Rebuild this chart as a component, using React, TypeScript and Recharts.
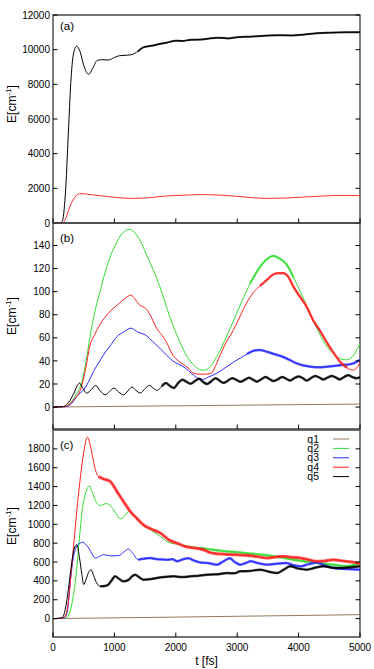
import React from "react";
import { LineChart, Line, XAxis, YAxis, Legend, ReferenceArea } from "recharts";

type Pt = [number, number];

const xTicks = [0, 1000, 2000, 3000, 4000, 5000];
const yTicksA = [0, 2000, 4000, 6000, 8000, 10000, 12000];
const yTicksB = [0, 20, 40, 60, 80, 100, 120, 140];
const yTicksC = [0, 200, 400, 600, 800, 1000, 1200, 1400, 1600, 1800];

const names = ["q1", "q2", "q3", "q4", "q5"];
const colors = ["#94785c", "#33dd33", "#2a2aff", "#ff2020", "#000000"];

// panel (a)
const aBlack: Pt[] = [
  [0, 0], [100, 0], [150, 100], [200, 1600], [250, 5200], [290, 8100], [330, 9700],
  [385, 10200], [440, 9900], [500, 9100], [580, 8580], [650, 8950], [720, 9380],
  [800, 9420], [900, 9400], [1000, 9550], [1080, 9650], [1200, 9680], [1290, 9720],
  [1380, 9900], [1470, 10130], [1600, 10220], [1700, 10300], [1850, 10400],
  [2000, 10520], [2100, 10500], [2250, 10570], [2400, 10580], [2550, 10650],
  [2700, 10690], [2850, 10650], [3000, 10720], [3200, 10750], [3450, 10800],
  [3650, 10830], [3900, 10820], [4100, 10880], [4300, 10950], [4500, 10980],
  [4750, 11000], [5000, 11010],
];
const aRed: Pt[] = [
  [0, 0], [150, 0], [200, 200], [250, 700], [300, 1150], [350, 1450], [400, 1640],
  [460, 1700], [550, 1670], [700, 1600], [900, 1520], [1100, 1450], [1350, 1420],
  [1600, 1470], [1850, 1560], [2100, 1600], [2400, 1640], [2700, 1610], [3000, 1540],
  [3250, 1460], [3500, 1420], [3800, 1440], [4100, 1500], [4400, 1560], [4700, 1590],
  [5000, 1580],
];

// panel (b)
const bQ1: Pt[] = [[0, 0], [500, 0.3], [1000, 0.6], [2000, 1.1], [3000, 1.6], [4000, 2.1], [5000, 2.6]];
const bQ2: Pt[] = [
  [0, 0], [200, 0.5], [260, 2], [320, 6], [400, 13], [470, 22], [540, 40], [600, 60],
  [680, 82], [770, 101], [850, 117], [930, 130], [1020, 141], [1120, 150], [1240, 154],
  [1350, 150], [1450, 141], [1530, 131], [1640, 118], [1750, 103], [1860, 85], [1960, 70],
  [2070, 56], [2180, 44], [2300, 36], [2420, 32], [2470, 32], [2560, 35], [2670, 44],
  [2800, 58], [2940, 75], [3080, 92], [3210, 107], [3340, 119], [3480, 128], [3590, 131],
  [3680, 129], [3800, 124], [3920, 112], [4030, 100], [4160, 84], [4300, 68], [4430, 55],
  [4570, 46], [4700, 41.5], [4780, 41], [4880, 44], [5000, 55],
];
const bQ3: Pt[] = [
  [0, 0], [200, 0.3], [300, 3], [400, 10], [500, 15], [580, 22], [660, 31], [740, 38],
  [820, 45], [930, 53], [1040, 61], [1150, 65], [1270, 68.4], [1380, 65], [1520, 62],
  [1620, 57], [1740, 51], [1850, 45], [1950, 40], [2050, 37], [2150, 34], [2260, 29],
  [2360, 25], [2450, 24], [2530, 26], [2620, 28], [2720, 31], [2830, 35], [2940, 39],
  [3050, 42.5], [3160, 46], [3280, 49], [3360, 49.5], [3480, 48], [3600, 46], [3720, 44],
  [3850, 41], [3960, 38], [4080, 36], [4200, 35], [4330, 34.5], [4460, 35], [4570, 35.5],
  [4700, 36.5], [4830, 37], [4920, 38.5], [5000, 41],
];
const bQ4: Pt[] = [
  [0, 0], [200, 0.5], [280, 3], [360, 8], [440, 14], [520, 30], [600, 53], [680, 63],
  [770, 72], [850, 78], [930, 83], [1060, 89], [1170, 94], [1270, 97], [1330, 94],
  [1400, 89], [1520, 85], [1600, 78], [1690, 68], [1780, 62], [1860, 55], [1940, 46],
  [2020, 41], [2120, 37], [2200, 34], [2300, 29], [2400, 28.5], [2500, 28.5], [2580, 29.5],
  [2650, 36], [2730, 46], [2820, 56], [2940, 67], [3050, 79], [3150, 90], [3260, 99],
  [3370, 105], [3480, 110], [3560, 114], [3650, 116], [3760, 116], [3830, 113], [3920, 104],
  [4030, 95], [4130, 87], [4240, 75], [4350, 66], [4450, 57], [4570, 47], [4680, 39],
  [4790, 34], [4880, 32], [4950, 34], [5000, 39],
];
const bQ5: Pt[] = [
  [0, 0], [150, 0.3], [220, 2], [280, 6], [340, 12], [400, 19], [430, 20.8], [480, 17],
  [550, 12], [620, 15], [695, 18.7], [770, 14], [850, 10.6], [920, 13.5], [995, 16.5],
  [1070, 13], [1150, 10.6], [1220, 14], [1285, 17.3], [1350, 14.5], [1420, 12.2],
  [1500, 16], [1570, 18.8], [1630, 16.5], [1700, 14.5], [1770, 18], [1840, 20.8],
  [1900, 18.5], [1970, 16.5], [2040, 21], [2110, 23.7], [2170, 22], [2240, 20.2],
  [2310, 22.5], [2380, 24.5], [2440, 22], [2510, 20], [2580, 22.5], [2650, 25], [2710, 23],
  [2780, 21], [2850, 23], [2920, 25], [2990, 23.5], [3050, 22], [3120, 23.5], [3190, 25.5],
  [3250, 24], [3320, 22], [3390, 24], [3460, 26], [3520, 24.5], [3590, 22.5], [3660, 24],
  [3730, 26], [3800, 24.5], [3860, 23], [3930, 25], [4000, 26.5], [4070, 25], [4130, 23],
  [4200, 25], [4270, 27], [4340, 25.5], [4400, 24], [4470, 25.5], [4540, 27], [4610, 25.5],
  [4670, 24], [4740, 26], [4810, 27.5], [4880, 26], [4940, 25], [5000, 26],
];

// panel (c)
const cQ1: Pt[] = [[0, 0], [1000, 8], [2000, 16], [3000, 25], [4000, 33], [5000, 42]];
const cQ2: Pt[] = [
  [0, 0], [200, 5], [260, 40], [320, 200], [380, 480], [430, 850], [480, 1170], [540, 1350],
  [590, 1408], [640, 1340], [700, 1240], [770, 1200], [870, 1220], [960, 1180], [1030, 1110],
  [1100, 1058], [1170, 1090], [1240, 1140], [1300, 1110], [1400, 1030], [1500, 975],
  [1600, 935], [1750, 870], [1860, 815], [2000, 790], [2200, 770], [2400, 750], [2600, 730],
  [2800, 715], [3000, 705], [3200, 690], [3450, 675], [3700, 650], [3920, 625], [4100, 605],
  [4300, 590], [4560, 572], [4780, 555], [4900, 570], [5000, 590],
];
const cQ3: Pt[] = [
  [0, 0], [180, 8], [230, 60], [280, 380], [330, 640], [380, 760], [440, 800], [490, 810],
  [540, 780], [590, 740], [640, 680], [690, 640], [760, 660], [820, 678], [890, 670],
  [960, 665], [1070, 668], [1160, 710], [1230, 738], [1290, 700], [1390, 625], [1480, 635],
  [1580, 642], [1700, 630], [1850, 625], [1950, 630], [2020, 607], [2120, 630], [2200, 640],
  [2300, 615], [2400, 596], [2520, 590], [2670, 572], [2780, 610], [2880, 640], [2960, 600],
  [3050, 572], [3140, 590], [3220, 607], [3330, 590], [3480, 572], [3600, 578], [3800, 590],
  [3900, 570], [4030, 554], [4150, 575], [4300, 596], [4400, 570], [4570, 536], [4800, 525],
  [5000, 519],
];
const cQ4: Pt[] = [
  [0, 0], [150, 2], [200, 30], [250, 180], [300, 520], [350, 880], [400, 1220], [450, 1520],
  [500, 1760], [560, 1925], [610, 1830], [650, 1700], [690, 1580], [740, 1505], [830, 1480],
  [930, 1455], [1040, 1350], [1150, 1240], [1260, 1135], [1370, 1060], [1470, 995],
  [1600, 950], [1740, 910], [1900, 830], [2020, 800], [2150, 765], [2290, 750], [2450, 730],
  [2560, 700], [2670, 688], [2800, 683], [2940, 678], [3100, 672], [3210, 667], [3350, 655],
  [3480, 642], [3620, 652], [3750, 660], [3900, 650], [4030, 642], [4160, 625], [4300, 607],
  [4430, 612], [4570, 625], [4680, 615], [4780, 607], [4900, 598], [5000, 585],
];
const cQ5: Pt[] = [
  [0, 0], [150, 10], [200, 100], [250, 307], [290, 520], [320, 660], [355, 760], [390, 783],
  [430, 650], [470, 470], [500, 360], [540, 420], [580, 490], [620, 519], [660, 460],
  [710, 380], [770, 342], [840, 345], [900, 360], [960, 410], [1010, 448], [1080, 420],
  [1150, 395], [1230, 410], [1300, 455], [1340, 466], [1400, 440], [1470, 413], [1600, 420],
  [1690, 431], [1800, 440], [1966, 448], [2100, 440], [2237, 448], [2370, 455], [2508, 466],
  [2670, 470], [2833, 483], [2950, 480], [3050, 501], [3200, 505], [3375, 519], [3500, 500],
  [3646, 483], [3760, 520], [3862, 554], [4000, 530], [4133, 519], [4270, 540], [4404, 554],
  [4550, 540], [4675, 536], [4850, 545], [5000, 554],
];

type Noise = { from: number; to: number; w: number };

const frameColor = "#444";
const TICK = 4.5;

function rows(pts: Pt[]) {
  return pts.map(([t, v]) => ({ t, v }));
}

function series(id: string, pts: Pt[], color: string, name: string, noise?: Noise) {
  const data = rows(pts);
  const out = [
    <Line
      key={id}
      xAxisId="b"
      yAxisId="l"
      data={data}
      dataKey="v"
      name={name}
      type="monotone"
      stroke={color}
      strokeWidth={1}
      dot={false}
      activeDot={false}
      isAnimationActive={false}
    />,
  ];
  if (noise) {
    out.push(
      <Line
        key={id + "-n"}
        xAxisId="b"
        yAxisId="l"
        data={data.filter((d) => d.t >= noise.from && d.t <= noise.to)}
        dataKey="v"
        legendType="none"
        type="monotone"
        stroke={color}
        strokeOpacity={0.8}
        strokeWidth={noise.w}
        dot={false}
        activeDot={false}
        isAnimationActive={false}
      />
    );
  }
  return out;
}

// inward tick marks, drawn at the positions the axes hand to the tick renderer
function LeftTick({ x, y, payload }: any) {
  return (
    <g>
      <line x1={x + 3} x2={x + 3 + TICK} y1={y} y2={y} stroke="#000" />
      <text x={x} y={y} dy="0.36em" textAnchor="end" fontSize={10} fill="#000">
        {payload.value}
      </text>
    </g>
  );
}

function RightTick({ x, y }: any) {
  return <line x1={x - TICK} x2={x} y1={y} y2={y} stroke="#000" />;
}

function TopTick({ x, y }: any) {
  return <line x1={x} x2={x} y1={y} y2={y + TICK} stroke="#000" />;
}

function BottomTick({ x, y, payload, show }: any) {
  return (
    <g>
      <line x1={x} x2={x} y1={y} y2={y - TICK} stroke="#000" />
      {show && (
        <text x={x} y={y + 14} textAnchor="middle" fontSize={10} fill="#000">
          {payload.value}
        </text>
      )}
    </g>
  );
}

function frame(yTicks: number[], yDomain: [number, number], showX: boolean) {
  return [
    <XAxis
      key="xb"
      xAxisId="b"
      dataKey="t"
      type="number"
      domain={[0, 5000]}
      ticks={xTicks}
      interval={0}
      allowDataOverflow
      height={showX ? 32 : 1}
      tickSize={0}
      tickMargin={0}
      tickLine={false}
      axisLine={false}
      tick={(p: any) => <BottomTick {...p} show={showX} />}
      label={showX ? { value: "t [fs]", position: "insideBottom", offset: 4, fontSize: 12, fill: "#000" } : undefined}
    />,
    <XAxis
      key="xt"
      xAxisId="t"
      orientation="top"
      type="number"
      domain={[0, 5000]}
      ticks={xTicks}
      interval={0}
      allowDataOverflow
      height={1}
      tickSize={0}
      tickMargin={0}
      tickLine={false}
      axisLine={false}
      tick={(p: any) => <TopTick {...p} />}
    />,
    <YAxis
      key="yl"
      yAxisId="l"
      type="number"
      domain={yDomain}
      ticks={yTicks}
      interval={0}
      allowDataOverflow
      width={53}
      tickSize={0}
      tickMargin={3}
      tickLine={false}
      axisLine={false}
      tick={(p: any) => <LeftTick {...p} />}
    />,
    <YAxis
      key="yr"
      yAxisId="r"
      orientation="right"
      type="number"
      domain={yDomain}
      ticks={yTicks}
      interval={0}
      allowDataOverflow
      width={1}
      tickSize={0}
      tickMargin={0}
      tickLine={false}
      axisLine={false}
      tick={(p: any) => <RightTick {...p} />}
    />,
    <ReferenceArea
      key="box"
      xAxisId="b"
      yAxisId="l"
      x1={0}
      x2={5000}
      y1={yDomain[0]}
      y2={yDomain[1]}
      fill="none"
      stroke={frameColor}
      strokeWidth={1.4}
      ifOverflow="visible"
    />,
  ];
}

function yTitle(y: number) {
  return (
    <text x={16} y={y} transform={`rotate(-90 16 ${y})`} textAnchor="middle" fontSize={12} fill="#000">
      E[cm<tspan dy={-5} fontSize={8}>-1</tspan>
      <tspan dy={5}>]</tspan>
    </text>
  );
}

function panelTag(label: string, y: number) {
  return (
    <text x={60} y={y} fontSize={11.5} fill="#000">
      {label}
    </text>
  );
}

function QLegend({ payload }: any) {
  const items = (payload || []).filter((p: any) => p.type !== "none");
  return (
    <svg width={70} height={52} style={{ display: "block" }}>
      {items.map((p: any, i: number) => {
        const y = 7 + i * 9.4;
        return (
          <g key={p.value}>
            <text x={29} y={y + 3.5} textAnchor="end" fontSize={10.5} fill="#000">
              {p.value}
            </text>
            <line x1={43} x2={59} y1={y} y2={y} stroke={p.color} strokeWidth={1} />
          </g>
        );
      })}
    </svg>
  );
}

const place = (top: number): React.CSSProperties => ({ position: "absolute", left: 0, top });

export default function App() {
  const m = { right: 13, left: 0, bottom: 0 };
  return (
    <div
      style={{
        position: "absolute",
        left: 0,
        top: 0,
        width: 374,
        height: 669,
        fontFamily: "'Liberation Sans', Arial, sans-serif",
        background: "#fff",
      }}
    >
      <style>{`.recharts-surface{overflow:visible}`}</style>
      <div style={place(0)}>
        <LineChart width={374} height={224} margin={{ ...m, top: 14 }}>
          {frame(yTicksA, [0, 12000], false)}
          {series("a-red", aRed, "#ff3030", "red")}
          {series("a-black", aBlack, "#000", "black", { from: 1380, to: 5000, w: 2 })}
          {yTitle(104)}
          {panelTag("(a)", 30)}
        </LineChart>
      </div>
      <div style={place(222)}>
        <LineChart width={374} height={208} margin={{ ...m, top: 0 }}>
          {frame(yTicksB, [-19, 159.5], false)}
          {series("b1", bQ1, colors[0], names[0])}
          {series("b2", bQ2, colors[1], names[1], { from: 3210, to: 3920, w: 2.2 })}
          {series("b3", bQ3, colors[2], names[2], { from: 3160, to: 5000, w: 2.5 })}
          {series("b4", bQ4, colors[3], names[3], { from: 3370, to: 4790, w: 2.5 })}
          {series("b5", bQ5, colors[4], names[4], { from: 1770, to: 5000, w: 2.5 })}
          {yTitle(94)}
          {panelTag("(b)", 20)}
        </LineChart>
      </div>
      <div style={place(428)}>
        <LineChart width={374} height={241} margin={{ ...m, top: 1 }}>
          {frame(yTicksC, [-195, 2000], true)}
          {series("c1", cQ1, colors[0], names[0])}
          {series("c2", cQ2, colors[1], names[1], { from: 2400, to: 5000, w: 2.5 })}
          {series("c3", cQ3, colors[2], names[2], { from: 1390, to: 5000, w: 2.5 })}
          {series("c4", cQ4, colors[3], names[3], { from: 740, to: 5000, w: 3 })}
          {series("c5", cQ5, colors[4], names[4], { from: 770, to: 5000, w: 2.5 })}
          {yTitle(98)}
          {panelTag("(c)", 21)}
          <Legend
            layout="vertical"
            align="center"
            verticalAlign="middle"
            content={<QLegend />}
            wrapperStyle={{ left: 290, top: 4, width: 70, height: 52 }}
          />
        </LineChart>
      </div>
    </div>
  );
}
